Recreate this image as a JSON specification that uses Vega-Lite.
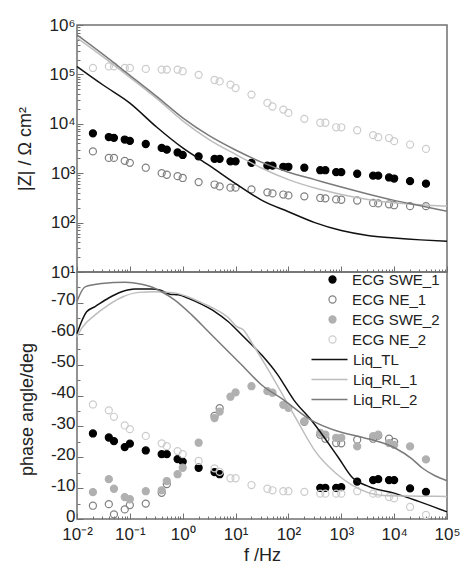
{
"$schema": "https://vega.github.io/schema/vega-lite/v6.json",
"background": "white",
"padding": {"left": 16, "top": 15, "right": 5, "bottom": 5},
"spacing": 0,
"bounds": "flush",
"resolve": {"scale": {"fill": "independent", "stroke": "independent", "color": "independent"}, "legend": {"fill": "independent", "stroke": "independent", "color": "independent"}},
"config": {
  "font": "Liberation Sans",
  "view": {"stroke": "#707070", "strokeWidth": 1.5},
  "axis": {"grid": false, "domain": false, "labelFlush": false, "labelFont": "Liberation Sans", "labelFontSize": 17, "labelColor": "#222", "titleFont": "Liberation Sans", "titleFontSize": 18, "titleFontWeight": "normal", "titleColor": "#222", "tickColor": "#707070", "tickWidth": 1},
  "legend": {"labelFont": "Liberation Sans", "labelFontSize": 15, "labelColor": "#222", "padding": 0, "rowPadding": 4}
},
"datasets": {
  "zlines": [
    {"s":"Liq_TL","f":0.01,"v":144500},{"s":"Liq_TL","f":0.0316,"v":60300},{"s":"Liq_TL","f":0.1,"v":26300},{"s":"Liq_TL","f":0.316,"v":8700},{"s":"Liq_TL","f":1,"v":3240},{"s":"Liq_TL","f":3.16,"v":1445},{"s":"Liq_TL","f":10,"v":617},{"s":"Liq_TL","f":31.6,"v":282},{"s":"Liq_TL","f":100,"v":166},{"s":"Liq_TL","f":316,"v":100},{"s":"Liq_TL","f":1000,"v":69},{"s":"Liq_TL","f":3162,"v":55},{"s":"Liq_TL","f":10000,"v":49},{"s":"Liq_TL","f":31623,"v":44.7},{"s":"Liq_TL","f":100000,"v":41.7},
    {"s":"Liq_RL_1","f":0.01,"v":550000},{"s":"Liq_RL_1","f":0.0316,"v":224000},{"s":"Liq_RL_1","f":0.1,"v":87100},{"s":"Liq_RL_1","f":0.316,"v":33100},{"s":"Liq_RL_1","f":1,"v":11500},{"s":"Liq_RL_1","f":3.16,"v":4790},{"s":"Liq_RL_1","f":10,"v":2400},{"s":"Liq_RL_1","f":31.6,"v":1259},{"s":"Liq_RL_1","f":100,"v":741},{"s":"Liq_RL_1","f":316,"v":501},{"s":"Liq_RL_1","f":1000,"v":372},{"s":"Liq_RL_1","f":3162,"v":295},{"s":"Liq_RL_1","f":10000,"v":251},{"s":"Liq_RL_1","f":31623,"v":229},{"s":"Liq_RL_1","f":100000,"v":214},
    {"s":"Liq_RL_2","f":0.01,"v":631000},{"s":"Liq_RL_2","f":0.0316,"v":251000},{"s":"Liq_RL_2","f":0.1,"v":95500},{"s":"Liq_RL_2","f":0.316,"v":36300},{"s":"Liq_RL_2","f":1,"v":13200},{"s":"Liq_RL_2","f":3.16,"v":5750},{"s":"Liq_RL_2","f":10,"v":2950},{"s":"Liq_RL_2","f":31.6,"v":1660},{"s":"Liq_RL_2","f":100,"v":1047},{"s":"Liq_RL_2","f":316,"v":741},{"s":"Liq_RL_2","f":1000,"v":525},{"s":"Liq_RL_2","f":3162,"v":380},{"s":"Liq_RL_2","f":10000,"v":282},{"s":"Liq_RL_2","f":31623,"v":219},{"s":"Liq_RL_2","f":100000,"v":170}
  ],
  "zpts": [
    {"s":"ECG SWE_1","f":0.02,"v":6400},{"s":"ECG SWE_1","f":0.04,"v":5400},{"s":"ECG SWE_1","f":0.05,"v":5200},{"s":"ECG SWE_1","f":0.08,"v":4800},{"s":"ECG SWE_1","f":0.1,"v":4500},{"s":"ECG SWE_1","f":0.2,"v":3900},{"s":"ECG SWE_1","f":0.4,"v":3250},{"s":"ECG SWE_1","f":0.5,"v":3000},{"s":"ECG SWE_1","f":0.8,"v":2630},{"s":"ECG SWE_1","f":1,"v":2340},{"s":"ECG SWE_1","f":2,"v":2190},{"s":"ECG SWE_1","f":4,"v":1950},{"s":"ECG SWE_1","f":5,"v":1950},{"s":"ECG SWE_1","f":8,"v":1740},{"s":"ECG SWE_1","f":10,"v":1740},{"s":"ECG SWE_1","f":20,"v":1620},{"s":"ECG SWE_1","f":40,"v":1420},{"s":"ECG SWE_1","f":50,"v":1420},{"s":"ECG SWE_1","f":80,"v":1350},{"s":"ECG SWE_1","f":100,"v":1350},{"s":"ECG SWE_1","f":200,"v":1290},{"s":"ECG SWE_1","f":400,"v":1150},{"s":"ECG SWE_1","f":500,"v":1150},{"s":"ECG SWE_1","f":800,"v":1050},{"s":"ECG SWE_1","f":1000,"v":1050},{"s":"ECG SWE_1","f":2000,"v":975},{"s":"ECG SWE_1","f":4000,"v":890},{"s":"ECG SWE_1","f":5000,"v":890},{"s":"ECG SWE_1","f":8000,"v":820},{"s":"ECG SWE_1","f":10000,"v":780},{"s":"ECG SWE_1","f":20000,"v":690},{"s":"ECG SWE_1","f":40000,"v":615},
    {"s":"ECG NE_1","f":0.02,"v":2760},{"s":"ECG NE_1","f":0.04,"v":2040},{"s":"ECG NE_1","f":0.05,"v":2040},{"s":"ECG NE_1","f":0.08,"v":1780},{"s":"ECG NE_1","f":0.1,"v":1620},{"s":"ECG NE_1","f":0.2,"v":1290},{"s":"ECG NE_1","f":0.4,"v":1000},{"s":"ECG NE_1","f":0.5,"v":930},{"s":"ECG NE_1","f":0.8,"v":870},{"s":"ECG NE_1","f":1,"v":800},{"s":"ECG NE_1","f":2,"v":660},{"s":"ECG NE_1","f":4,"v":590},{"s":"ECG NE_1","f":5,"v":540},{"s":"ECG NE_1","f":8,"v":510},{"s":"ECG NE_1","f":10,"v":510},{"s":"ECG NE_1","f":20,"v":470},{"s":"ECG NE_1","f":40,"v":410},{"s":"ECG NE_1","f":50,"v":390},{"s":"ECG NE_1","f":80,"v":370},{"s":"ECG NE_1","f":100,"v":355},{"s":"ECG NE_1","f":200,"v":340},{"s":"ECG NE_1","f":400,"v":315},{"s":"ECG NE_1","f":500,"v":310},{"s":"ECG NE_1","f":800,"v":295},{"s":"ECG NE_1","f":1000,"v":290},{"s":"ECG NE_1","f":2000,"v":280},{"s":"ECG NE_1","f":4000,"v":250},{"s":"ECG NE_1","f":5000,"v":245},{"s":"ECG NE_1","f":8000,"v":235},{"s":"ECG NE_1","f":10000,"v":225},{"s":"ECG NE_1","f":20000,"v":215},{"s":"ECG NE_1","f":40000,"v":215},
    {"s":"ECG NE_2","f":0.02,"v":135000},{"s":"ECG NE_2","f":0.04,"v":145000},{"s":"ECG NE_2","f":0.05,"v":145000},{"s":"ECG NE_2","f":0.08,"v":135000},{"s":"ECG NE_2","f":0.1,"v":135000},{"s":"ECG NE_2","f":0.2,"v":129000},{"s":"ECG NE_2","f":0.4,"v":125000},{"s":"ECG NE_2","f":0.5,"v":125000},{"s":"ECG NE_2","f":0.8,"v":125000},{"s":"ECG NE_2","f":1,"v":116000},{"s":"ECG NE_2","f":2,"v":98000},{"s":"ECG NE_2","f":4,"v":77000},{"s":"ECG NE_2","f":5,"v":72000},{"s":"ECG NE_2","f":8,"v":62000},{"s":"ECG NE_2","f":10,"v":53000},{"s":"ECG NE_2","f":20,"v":39000},{"s":"ECG NE_2","f":40,"v":26500},{"s":"ECG NE_2","f":50,"v":22400},{"s":"ECG NE_2","f":80,"v":19400},{"s":"ECG NE_2","f":100,"v":16600},{"s":"ECG NE_2","f":200,"v":12600},{"s":"ECG NE_2","f":400,"v":10500},{"s":"ECG NE_2","f":500,"v":10500},{"s":"ECG NE_2","f":800,"v":8500},{"s":"ECG NE_2","f":1000,"v":8500},{"s":"ECG NE_2","f":2000,"v":7400},{"s":"ECG NE_2","f":4000,"v":5900},{"s":"ECG NE_2","f":5000,"v":5350},{"s":"ECG NE_2","f":8000,"v":5150},{"s":"ECG NE_2","f":10000,"v":4450},{"s":"ECG NE_2","f":20000,"v":3800},{"s":"ECG NE_2","f":40000,"v":3100}
  ],
  "plines": [
    {"s":"Liq_TL","f":0.01,"v":-60.1},{"s":"Liq_TL","f":0.0152,"v":-67.1},{"s":"Liq_TL","f":0.022,"v":-68.8},{"s":"Liq_TL","f":0.039,"v":-71.5},{"s":"Liq_TL","f":0.07,"v":-73.6},{"s":"Liq_TL","f":0.125,"v":-74.5},{"s":"Liq_TL","f":0.26,"v":-74.5},{"s":"Liq_TL","f":0.37,"v":-74.2},{"s":"Liq_TL","f":0.57,"v":-72.8},{"s":"Liq_TL","f":0.82,"v":-72.6},{"s":"Liq_TL","f":1.28,"v":-71.5},{"s":"Liq_TL","f":2.3,"v":-69.5},{"s":"Liq_TL","f":4.1,"v":-67.1},{"s":"Liq_TL","f":7.3,"v":-63.9},{"s":"Liq_TL","f":13.3,"v":-59.5},{"s":"Liq_TL","f":31.6,"v":-53},{"s":"Liq_TL","f":61,"v":-47},{"s":"Liq_TL","f":126,"v":-38.6},{"s":"Liq_TL","f":286,"v":-31.5},{"s":"Liq_TL","f":874,"v":-20},{"s":"Liq_TL","f":1600,"v":-13.5},{"s":"Liq_TL","f":3330,"v":-10.5},{"s":"Liq_TL","f":10400,"v":-8.3},{"s":"Liq_TL","f":29000,"v":-5.7},{"s":"Liq_TL","f":100000,"v":-2.3},
    {"s":"Liq_RL_1","f":0.01,"v":-59},{"s":"Liq_RL_1","f":0.0123,"v":-61.8},{"s":"Liq_RL_1","f":0.022,"v":-66.1},{"s":"Liq_RL_1","f":0.039,"v":-69.3},{"s":"Liq_RL_1","f":0.074,"v":-72},{"s":"Liq_RL_1","f":0.15,"v":-73.4},{"s":"Liq_RL_1","f":0.3,"v":-73.6},{"s":"Liq_RL_1","f":0.57,"v":-73.4},{"s":"Liq_RL_1","f":0.82,"v":-73},{"s":"Liq_RL_1","f":1.28,"v":-71.9},{"s":"Liq_RL_1","f":2.3,"v":-70},{"s":"Liq_RL_1","f":4.1,"v":-68},{"s":"Liq_RL_1","f":7.3,"v":-65.2},{"s":"Liq_RL_1","f":10.5,"v":-62.3},{"s":"Liq_RL_1","f":14,"v":-61.3},{"s":"Liq_RL_1","f":20.4,"v":-57},{"s":"Liq_RL_1","f":39.3,"v":-49},{"s":"Liq_RL_1","f":82,"v":-39.5},{"s":"Liq_RL_1","f":145,"v":-32},{"s":"Liq_RL_1","f":320,"v":-22},{"s":"Liq_RL_1","f":770,"v":-15},{"s":"Liq_RL_1","f":1600,"v":-11},{"s":"Liq_RL_1","f":6300,"v":-7.6},{"s":"Liq_RL_1","f":30000,"v":-7.4},{"s":"Liq_RL_1","f":100000,"v":-7.3},
    {"s":"Liq_RL_2","f":0.01,"v":-70.5},{"s":"Liq_RL_2","f":0.0142,"v":-75.2},{"s":"Liq_RL_2","f":0.0293,"v":-76.3},{"s":"Liq_RL_2","f":0.081,"v":-76.7},{"s":"Liq_RL_2","f":0.168,"v":-76},{"s":"Liq_RL_2","f":0.3,"v":-74.7},{"s":"Liq_RL_2","f":0.4,"v":-73.6},{"s":"Liq_RL_2","f":0.71,"v":-70.9},{"s":"Liq_RL_2","f":1.48,"v":-66.1},{"s":"Liq_RL_2","f":3.05,"v":-60.7},{"s":"Liq_RL_2","f":6.3,"v":-55.3},{"s":"Liq_RL_2","f":13.1,"v":-49.9},{"s":"Liq_RL_2","f":31.2,"v":-43.4},{"s":"Liq_RL_2","f":81,"v":-38.6},{"s":"Liq_RL_2","f":259,"v":-32.2},{"s":"Liq_RL_2","f":830,"v":-28.5},{"s":"Liq_RL_2","f":2465,"v":-26.5},{"s":"Liq_RL_2","f":10400,"v":-23},{"s":"Liq_RL_2","f":21700,"v":-19.5},{"s":"Liq_RL_2","f":33600,"v":-16.6},{"s":"Liq_RL_2","f":59300,"v":-14},{"s":"Liq_RL_2","f":100000,"v":-12.4}
  ],
  "ppts": [
    {"s":"ECG SWE_1","f":0.02,"v":-27.7},{"s":"ECG SWE_1","f":0.04,"v":-26.4},{"s":"ECG SWE_1","f":0.05,"v":-25.2},{"s":"ECG SWE_1","f":0.08,"v":-23.3},{"s":"ECG SWE_1","f":0.1,"v":-24.4},{"s":"ECG SWE_1","f":0.2,"v":-22.2},{"s":"ECG SWE_1","f":0.4,"v":-21},{"s":"ECG SWE_1","f":0.5,"v":-21},{"s":"ECG SWE_1","f":0.8,"v":-19.4},{"s":"ECG SWE_1","f":1,"v":-18.6},{"s":"ECG SWE_1","f":2,"v":-16.6},{"s":"ECG SWE_1","f":4,"v":-15.2},{"s":"ECG SWE_1","f":5,"v":-14.5},{"s":"ECG SWE_1","f":400,"v":-10.1},{"s":"ECG SWE_1","f":500,"v":-10.1},{"s":"ECG SWE_1","f":800,"v":-10.1},{"s":"ECG SWE_1","f":1000,"v":-10.3},{"s":"ECG SWE_1","f":2000,"v":-12.1},{"s":"ECG SWE_1","f":4000,"v":-12.6},{"s":"ECG SWE_1","f":5000,"v":-12.9},{"s":"ECG SWE_1","f":8000,"v":-12.6},{"s":"ECG SWE_1","f":10000,"v":-12.6},{"s":"ECG SWE_1","f":20000,"v":-9.9},{"s":"ECG SWE_1","f":40000,"v":-8.8},
    {"s":"ECG NE_1","f":0.02,"v":-4.3},{"s":"ECG NE_1","f":0.04,"v":-4.8},{"s":"ECG NE_1","f":0.05,"v":-1.5},{"s":"ECG NE_1","f":0.08,"v":-3.1},{"s":"ECG NE_1","f":0.1,"v":-4.5},{"s":"ECG NE_1","f":0.2,"v":-5},{"s":"ECG NE_1","f":0.4,"v":-8.5},{"s":"ECG NE_1","f":0.5,"v":-11.3},{"s":"ECG NE_1","f":4,"v":-33.4},{"s":"ECG NE_1","f":5,"v":-35.9},{"s":"ECG NE_1","f":200,"v":-31.5},{"s":"ECG NE_1","f":400,"v":-27.3},{"s":"ECG NE_1","f":500,"v":-26},{"s":"ECG NE_1","f":800,"v":-24.6},{"s":"ECG NE_1","f":1000,"v":-24.5},{"s":"ECG NE_1","f":2000,"v":-25.7},{"s":"ECG NE_1","f":4000,"v":-26},{"s":"ECG NE_1","f":5000,"v":-27},{"s":"ECG NE_1","f":8000,"v":-26},{"s":"ECG NE_1","f":10000,"v":-25},
    {"s":"ECG SWE_2","f":0.02,"v":-8.7},{"s":"ECG SWE_2","f":0.04,"v":-12.9},{"s":"ECG SWE_2","f":0.05,"v":-9.8},{"s":"ECG SWE_2","f":0.08,"v":-7.1},{"s":"ECG SWE_2","f":0.1,"v":-6.4},{"s":"ECG SWE_2","f":0.2,"v":-9},{"s":"ECG SWE_2","f":0.4,"v":-9.3},{"s":"ECG SWE_2","f":0.5,"v":-12.3},{"s":"ECG SWE_2","f":0.8,"v":-14.5},{"s":"ECG SWE_2","f":1,"v":-16.6},{"s":"ECG SWE_2","f":2,"v":-24.7},{"s":"ECG SWE_2","f":4,"v":-32.7},{"s":"ECG SWE_2","f":5,"v":-34.8},{"s":"ECG SWE_2","f":8,"v":-39.6},{"s":"ECG SWE_2","f":10,"v":-41},{"s":"ECG SWE_2","f":20,"v":-43},{"s":"ECG SWE_2","f":40,"v":-41.4},{"s":"ECG SWE_2","f":50,"v":-40.9},{"s":"ECG SWE_2","f":80,"v":-37},{"s":"ECG SWE_2","f":100,"v":-36},{"s":"ECG SWE_2","f":200,"v":-31.6},{"s":"ECG SWE_2","f":400,"v":-27.9},{"s":"ECG SWE_2","f":500,"v":-27.3},{"s":"ECG SWE_2","f":800,"v":-26.3},{"s":"ECG SWE_2","f":1000,"v":-26.3},{"s":"ECG SWE_2","f":2000,"v":-23.5},{"s":"ECG SWE_2","f":4000,"v":-26.8},{"s":"ECG SWE_2","f":5000,"v":-27.3},{"s":"ECG SWE_2","f":8000,"v":-24.6},{"s":"ECG SWE_2","f":10000,"v":-24},{"s":"ECG SWE_2","f":20000,"v":-23.5},{"s":"ECG SWE_2","f":40000,"v":-19.3},
    {"s":"ECG NE_2","f":0.02,"v":-37.1},{"s":"ECG NE_2","f":0.04,"v":-35.2},{"s":"ECG NE_2","f":0.05,"v":-33.1},{"s":"ECG NE_2","f":0.08,"v":-30.3},{"s":"ECG NE_2","f":0.1,"v":-29.1},{"s":"ECG NE_2","f":0.2,"v":-26.9},{"s":"ECG NE_2","f":0.4,"v":-24.5},{"s":"ECG NE_2","f":0.5,"v":-23.6},{"s":"ECG NE_2","f":0.8,"v":-22},{"s":"ECG NE_2","f":1,"v":-21},{"s":"ECG NE_2","f":2,"v":-18.8},{"s":"ECG NE_2","f":4,"v":-16.4},{"s":"ECG NE_2","f":5,"v":-15.3},{"s":"ECG NE_2","f":8,"v":-13.2},{"s":"ECG NE_2","f":10,"v":-13.2},{"s":"ECG NE_2","f":20,"v":-11},{"s":"ECG NE_2","f":40,"v":-9.8},{"s":"ECG NE_2","f":50,"v":-9.3},{"s":"ECG NE_2","f":80,"v":-9},{"s":"ECG NE_2","f":100,"v":-9},{"s":"ECG NE_2","f":200,"v":-8.8},{"s":"ECG NE_2","f":400,"v":-8.2},{"s":"ECG NE_2","f":500,"v":-8.2},{"s":"ECG NE_2","f":800,"v":-8.2},{"s":"ECG NE_2","f":1000,"v":-8.2},{"s":"ECG NE_2","f":2000,"v":-9},{"s":"ECG NE_2","f":4000,"v":-8.2},{"s":"ECG NE_2","f":5000,"v":-8.2},{"s":"ECG NE_2","f":8000,"v":-7.1},{"s":"ECG NE_2","f":10000,"v":-6.7},{"s":"ECG NE_2","f":20000,"v":-3.9},{"s":"ECG NE_2","f":40000,"v":-1.3}
  ]
},
"vconcat": [
  {
    "width": 370, "height": 247,
    "layer": [
      {
        "data": {"name": "zpts"},
        "mark": {"type": "point", "filled": true, "size": 50, "strokeWidth": 1.2, "opacity": 1},
        "encoding": {
          "x": {"field": "f", "type": "quantitative", "scale": {"type": "log", "domain": [0.01, 100000], "nice": false},
                "axis": {"orient": "bottom", "values": [0.01,0.1,1,10,100,1000,10000,100000], "labels": false, "tickSize": -6, "title": null}},
          "y": {"field": "v", "type": "quantitative", "scale": {"type": "log", "domain": [10, 1000000], "nice": false},
                "axis": {"orient": "left", "values": [10,100,1000,10000,100000,1000000], "tickSize": -6, "labelPadding": 8, "titlePadding": 14, "title": "|Z| / Ω cm²",
                         "labelExpr": "['10¹','10²','10³','10⁴','10⁵','10⁶'][round(log(datum.value)/LN10)-1]"}},
          "fill": {"field": "s", "type": "nominal", "scale": {"domain": ["ECG SWE_1","ECG NE_1","ECG SWE_2","ECG NE_2"], "range": ["#000000","transparent","#b0b0b0","transparent"]}, "legend": null},
          "stroke": {"field": "s", "type": "nominal", "scale": {"domain": ["ECG SWE_1","ECG NE_1","ECG SWE_2","ECG NE_2"], "range": ["#000000","#808080","#b0b0b0","#cccccc"]}, "legend": null}
        }
      },
      {
        "data": {"name": "zlines"},
        "mark": {"type": "line", "strokeWidth": 1.5, "interpolate": "monotone"},
        "encoding": {
          "x": {"field": "f", "type": "quantitative", "scale": {"type": "log", "domain": [0.01, 100000], "nice": false},
                "axis": {"orient": "bottom", "values": [0.02,0.03,0.04,0.05,0.06,0.07,0.08,0.09,0.2,0.3,0.4,0.5,0.6,0.7,0.8,0.9,2,3,4,5,6,7,8,9,20,30,40,50,60,70,80,90,200,300,400,500,600,700,800,900,2000,3000,4000,5000,6000,7000,8000,9000,20000,30000,40000,50000,60000,70000,80000,90000], "labels": false, "tickSize": -3, "title": null}},
          "y": {"field": "v", "type": "quantitative", "scale": {"type": "log", "domain": [10, 1000000], "nice": false},
                "axis": {"orient": "left", "values": [20,30,40,50,60,70,80,90,200,300,400,500,600,700,800,900,2000,3000,4000,5000,6000,7000,8000,9000,20000,30000,40000,50000,60000,70000,80000,90000,200000,300000,400000,500000,600000,700000,800000,900000], "labels": false, "tickSize": -3, "title": null}},
          "color": {"field": "s", "type": "nominal", "scale": {"domain": ["Liq_TL","Liq_RL_1","Liq_RL_2"], "range": ["#111111","#bdbdbd","#7a7a7a"]}, "legend": null}
        }
      }
    ],
    "resolve": {"axis": {"x": "independent", "y": "independent"}}
  },
  {
    "width": 370, "height": 247,
    "layer": [
      {
        "data": {"name": "ppts"},
        "mark": {"type": "point", "filled": true, "size": 50, "strokeWidth": 1.2, "opacity": 1},
        "encoding": {
          "x": {"field": "f", "type": "quantitative", "scale": {"type": "log", "domain": [0.01, 100000], "nice": false},
                "axis": {"orient": "bottom", "values": [0.01,0.1,1,10,100,1000,10000,100000], "tickSize": -6, "labelPadding": 13, "title": "f /Hz", "titlePadding": 4,
                         "labelExpr": "['10⁻²','10⁻¹','10⁰','10¹','10²','10³','10⁴','10⁵'][round(log(datum.value)/LN10)+2]"}},
          "y": {"field": "v", "type": "quantitative", "scale": {"domain": [0, -80], "nice": false},
                "axis": {"orient": "left", "values": [0,-10,-20,-30,-40,-50,-60,-70], "tickSize": -6, "labelPadding": 8, "labelOffset": -3, "titlePadding": 14, "title": "phase angle/deg", "titleY": 137,
                         "labelExpr": "datum.value + ''"}},
          "fill": {"field": "s", "type": "nominal", "scale": {"domain": ["ECG SWE_1","ECG NE_1","ECG SWE_2","ECG NE_2"], "range": ["#000000","transparent","#b0b0b0","transparent"]},
                   "legend": {"orient": "none", "legendX": 248, "legendY": 0, "title": null, "labelOffset": 12, "symbolSize": 50, "symbolStrokeWidth": 1.2}},
          "stroke": {"field": "s", "type": "nominal", "scale": {"domain": ["ECG SWE_1","ECG NE_1","ECG SWE_2","ECG NE_2"], "range": ["#000000","#808080","#b0b0b0","#cccccc"]},
                   "legend": {"orient": "none", "legendX": 248, "legendY": 0, "title": null, "labelOffset": 12, "symbolSize": 50, "symbolStrokeWidth": 1.2}}
        }
      },
      {
        "data": {"name": "plines"},
        "mark": {"type": "line", "strokeWidth": 1.5, "interpolate": "monotone"},
        "encoding": {
          "x": {"field": "f", "type": "quantitative", "scale": {"type": "log", "domain": [0.01, 100000], "nice": false},
                "axis": {"orient": "bottom", "values": [0.02,0.03,0.04,0.05,0.06,0.07,0.08,0.09,0.2,0.3,0.4,0.5,0.6,0.7,0.8,0.9,2,3,4,5,6,7,8,9,20,30,40,50,60,70,80,90,200,300,400,500,600,700,800,900,2000,3000,4000,5000,6000,7000,8000,9000,20000,30000,40000,50000,60000,70000,80000,90000], "labels": false, "tickSize": -3, "title": null}},
          "y": {"field": "v", "type": "quantitative", "scale": {"domain": [0, -80], "nice": false},
                "axis": {"orient": "left", "values": [-5,-15,-25,-35,-45,-55,-65,-75], "labels": false, "tickSize": -3, "title": null}},
          "color": {"field": "s", "type": "nominal", "scale": {"domain": ["Liq_TL","Liq_RL_1","Liq_RL_2"], "range": ["#111111","#bdbdbd","#7a7a7a"]},
                    "legend": {"orient": "none", "legendX": 245, "legendY": 80, "title": null, "symbolType": "M-3.6,0H3.6", "symbolSize": 100, "symbolStrokeWidth": 1.5, "labelOffset": 16}}
        }
      }
    ],
    "resolve": {"axis": {"x": "independent", "y": "independent"}}
  }
]
}
